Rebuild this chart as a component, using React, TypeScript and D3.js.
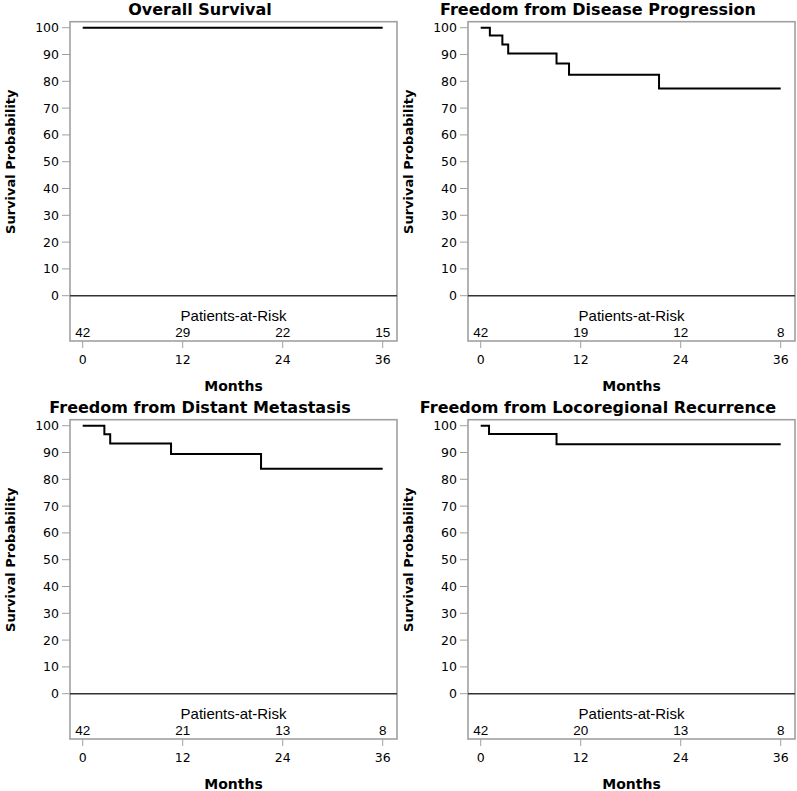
import React from 'react';
import * as d3 from 'd3';

// chart values
const titles = [
  'Overall Survival',
  'Freedom from Disease Progression',
  'Freedom from Distant Metastasis',
  'Freedom from Locoregional Recurrence',
];

const xTicks = [0, 12, 24, 36];
const yTicks = [0, 10, 20, 30, 40, 50, 60, 70, 80, 90, 100];

const osMonths = [0, 36];
const osSurv = [100, 100];

const dpMonths = [0, 1.1, 2.6, 3.3, 9.1, 10.6, 21.4, 36];
const dpSurv = [100, 97.1, 93.7, 90.4, 86.6, 82.4, 77.3, 77.3];

const dmMonths = [0, 2.6, 3.3, 10.6, 21.4, 36];
const dmSurv = [100, 96.8, 93.4, 89.4, 83.9, 83.9];

const lrMonths = [0, 1.0, 9.1, 36];
const lrSurv = [100, 96.9, 93.1, 93.1];

const osRisk = [42, 29, 22, 15];
const dpRisk = [42, 19, 12, 8];
const dmRisk = [42, 21, 13, 8];
const lrRisk = [42, 20, 13, 8];

const curves = [
  { months: osMonths, surv: osSurv, risk: osRisk },
  { months: dpMonths, surv: dpSurv, risk: dpRisk },
  { months: dmMonths, surv: dmSurv, risk: dmRisk },
  { months: lrMonths, surv: lrSurv, risk: lrRisk },
];

const W = 797;
const H = 791;
const cell = 398;

const font = '"DejaVu Sans", sans-serif';
const riskFont = '"Liberation Sans", Arial, sans-serif';

function Panel({ idx }: { idx: number }) {
  const col = idx % 2;
  const row = Math.floor(idx / 2);
  const c = curves[idx];

  const x = d3.scaleLinear().domain([0, 36]).range([82.7, 382.7]);
  const y = d3.scaleLinear().domain([0, 100]).range([295.7, 27.7]);

  // frame box around plot + risk table
  const left = 70, right = 397, top = y(100) - 6, bottom = y(0) + 45.3;

  const pts = c.months.map((m, i) => [m, c.surv[i]] as [number, number]);
  const line = d3.line<[number, number]>()
    .x(d => x(d[0]))
    .y(d => y(d[1]))
    .curve(d3.curveStepAfter);

  return (
    <g transform={`translate(${col * cell},${row * cell})`}>
      <text x={200} y={15} textAnchor="middle" fontFamily={font}
        fontWeight="bold" fontSize={16} fill="#000">{titles[idx]}</text>

      {/* frame */}
      <rect x={left} y={top} width={right - left} height={bottom - top}
        fill="none" stroke="#a0a0a0" strokeWidth={1.6} />

      {/* zero reference */}
      <line x1={left} x2={right} y1={y(0)} y2={y(0)} stroke="#333" strokeWidth={1.5} />

      {/* y axis */}
      {yTicks.map(t => (
        <g key={t}>
          <line x1={left - 8} x2={left} y1={y(t)} y2={y(t)} stroke="#a0a0a0" strokeWidth={1} />
          <text x={left - 11} y={y(t)} dy="0.36em" textAnchor="end"
            fontFamily={font} fontSize={12.5} fill="#000">{t}</text>
        </g>
      ))}
      <text transform={`translate(15,${(y(0) + y(100)) / 2}) rotate(-90)`}
        textAnchor="middle" fontFamily={font} fontWeight="bold" fontSize={13}
        fill="#000">Survival Probability</text>

      {/* x axis */}
      {xTicks.map(t => (
        <g key={t}>
          <line x1={x(t)} x2={x(t)} y1={bottom} y2={bottom + 7} stroke="#a0a0a0" strokeWidth={1} />
          <text x={x(t)} y={bottom + 23} textAnchor="middle"
            fontFamily={font} fontSize={12.5} fill="#000">{t}</text>
        </g>
      ))}
      <text x={(left + right) / 2} y={bottom + 50} textAnchor="middle"
        fontFamily={font} fontWeight="bold" fontSize={14} fill="#000">Months</text>

      {/* patients at risk */}
      <text x={(left + right) / 2} y={y(0) + 25.5} textAnchor="middle"
        fontFamily={riskFont} fontSize={15} fill="#000">Patients-at-Risk</text>
      {xTicks.map((t, i) => (
        <text key={t} x={x(t)} y={y(0) + 41.5} textAnchor="middle"
          fontFamily={riskFont} fontSize={13.5} fill="#000">{c.risk[i]}</text>
      ))}

      {/* KM curve */}
      <path d={line(pts) ?? ''} fill="none" stroke="#000" strokeWidth={2} />
    </g>
  );
}

export default function App() {
  return (
    <div style={{ position: 'absolute', left: 0, top: 0 }}>
      <svg width={W} height={H} style={{ display: 'block', background: '#fff' }}>
        {titles.map((_, i) => <Panel key={i} idx={i} />)}
      </svg>
    </div>
  );
}
